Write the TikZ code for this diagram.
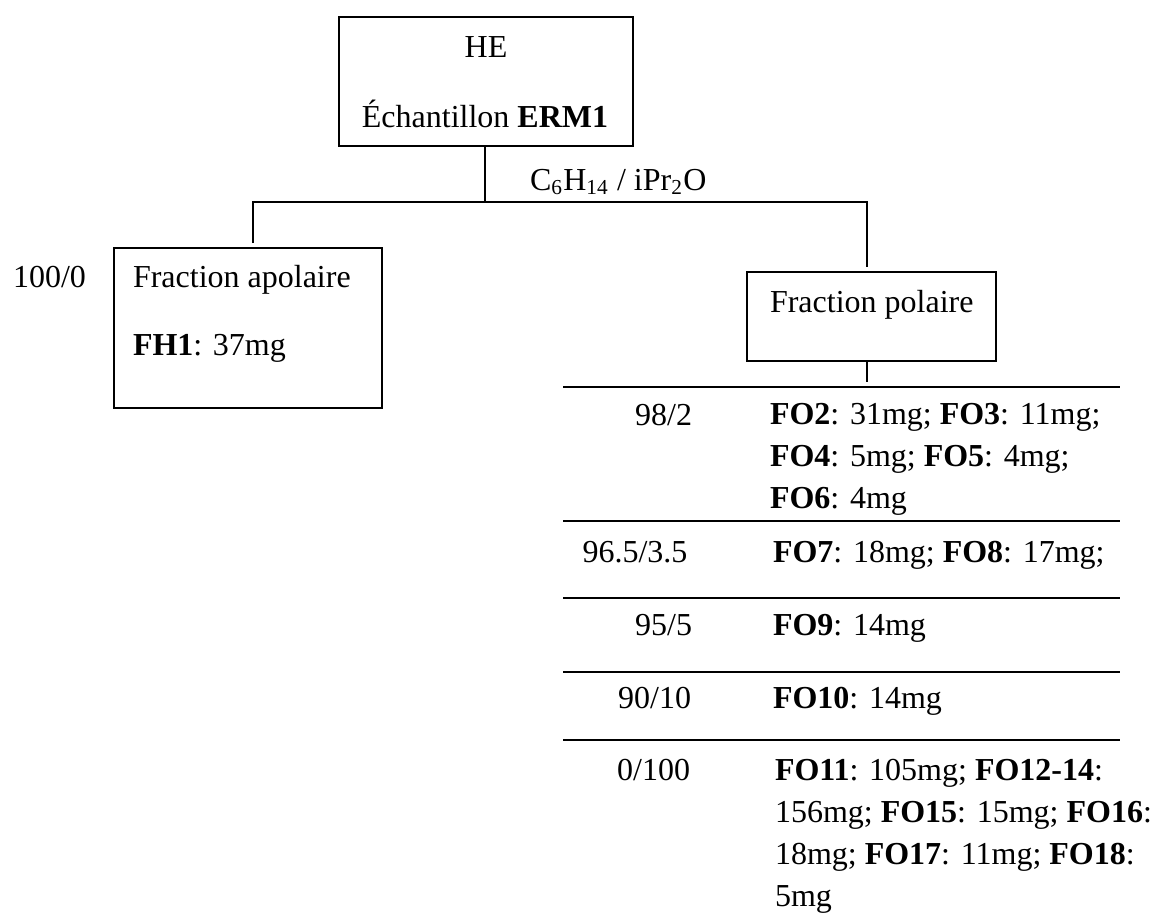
\documentclass[tikz,border=0pt]{standalone}
\usepackage{fontspec}
\setmainfont{Liberation Serif}
\begin{document}
\begin{tikzpicture}[x=0.375pt,y=-0.375pt,line width=0.75pt,
  box/.style={draw,inner sep=0pt,outer sep=0pt},
  txt/.style={anchor=base west,inner sep=0pt,outer sep=0pt,align=left,font=\fontsize{12}{15.7}\selectfont},
  ctxt/.style={anchor=base,inner sep=0pt,outer sep=0pt,font=\fontsize{12}{15.7}\selectfont},
  rtxt/.style={anchor=base east,inner sep=0pt,outer sep=0pt,font=\fontsize{12}{15.7}\selectfont},
  rule/.style={line width=0.75pt}]
\useasboundingbox (0,0) rectangle (1151,914);

% boxes
\node[box,minimum width=110.25pt,minimum height=48.375pt] (he) at (486,81.5) {};
\node[box,minimum width=100.5pt,minimum height=60pt] (apol) at (248,328) {};
\node[box,minimum width=93.375pt,minimum height=33.375pt] (pol) at (871.5,316.5) {};

% texts in boxes
\node[ctxt] (t-he) at (486,57) {HE};
\node[ctxt] (t-erm) at (485,127) {Échantillon \textbf{ERM1}};
\node[txt] (t-apol) at (133,287) {Fraction apolaire};
\node[txt] (t-fh1) at (133,355) {\textbf{FH1}: 37mg};
\node[txt] (t-pol) at (770,312) {Fraction polaire};

% labels
\node[txt] (solv) at (530,190) {C\textsubscript{6}H\textsubscript{14} / iPr\textsubscript{2}O};
\node[txt] (r100) at (13,287) {100/0};

% connectors
\coordinate (j0) at (485,202);
\coordinate (jl) at (253,202);
\coordinate (jr) at (867,202);
\coordinate (al) at (253,243);
\coordinate (pr) at (867,267);
\coordinate (pb1) at (867,362);
\coordinate (pb2) at (867,382);
\draw[rule] (he.south -| j0) -- (j0);
\draw[rule] (al) -- (jl) -- (jr) -- (pr);
\draw[rule] (pb1) -- (pb2);

% separators
\foreach \yy/\nm in {387/s1,521/s2,598/s3,672/s4,740/s5}{
  \coordinate (\nm a) at (563,\yy);
  \coordinate (\nm b) at (1120,\yy);
  \draw[rule] (\nm a) -- (\nm b);
}

% rows (multi-line nodes are placed by the baseline of their last line)
\node[rtxt] (r1) at (692,425) {98/2};
\node[txt] (f1) at (770,508) {\textbf{FO2}: 31mg; \textbf{FO3}: 11mg;\\\textbf{FO4}: 5mg; \textbf{FO5}: 4mg;\\\textbf{FO6}: 4mg};
\node[ctxt] (r2) at (635,562) {96.5/3.5};
\node[txt] (f2) at (773,562) {\textbf{FO7}: 18mg; \textbf{FO8}: 17mg;};
\node[rtxt] (r3) at (692,635) {95/5};
\node[txt] (f3) at (773,635) {\textbf{FO9}: 14mg};
\node[rtxt] (r4) at (691,708) {90/10};
\node[txt] (f4) at (773,708) {\textbf{FO10}: 14mg};
\node[rtxt] (r5) at (690,780) {0/100};
\node[txt] (f5) at (775,906) {\textbf{FO11}: 105mg; \textbf{FO12-14}:\\156mg; \textbf{FO15}: 15mg; \textbf{FO16}:\\18mg; \textbf{FO17}: 11mg; \textbf{FO18}:\\5mg};
\end{tikzpicture}
\end{document}
